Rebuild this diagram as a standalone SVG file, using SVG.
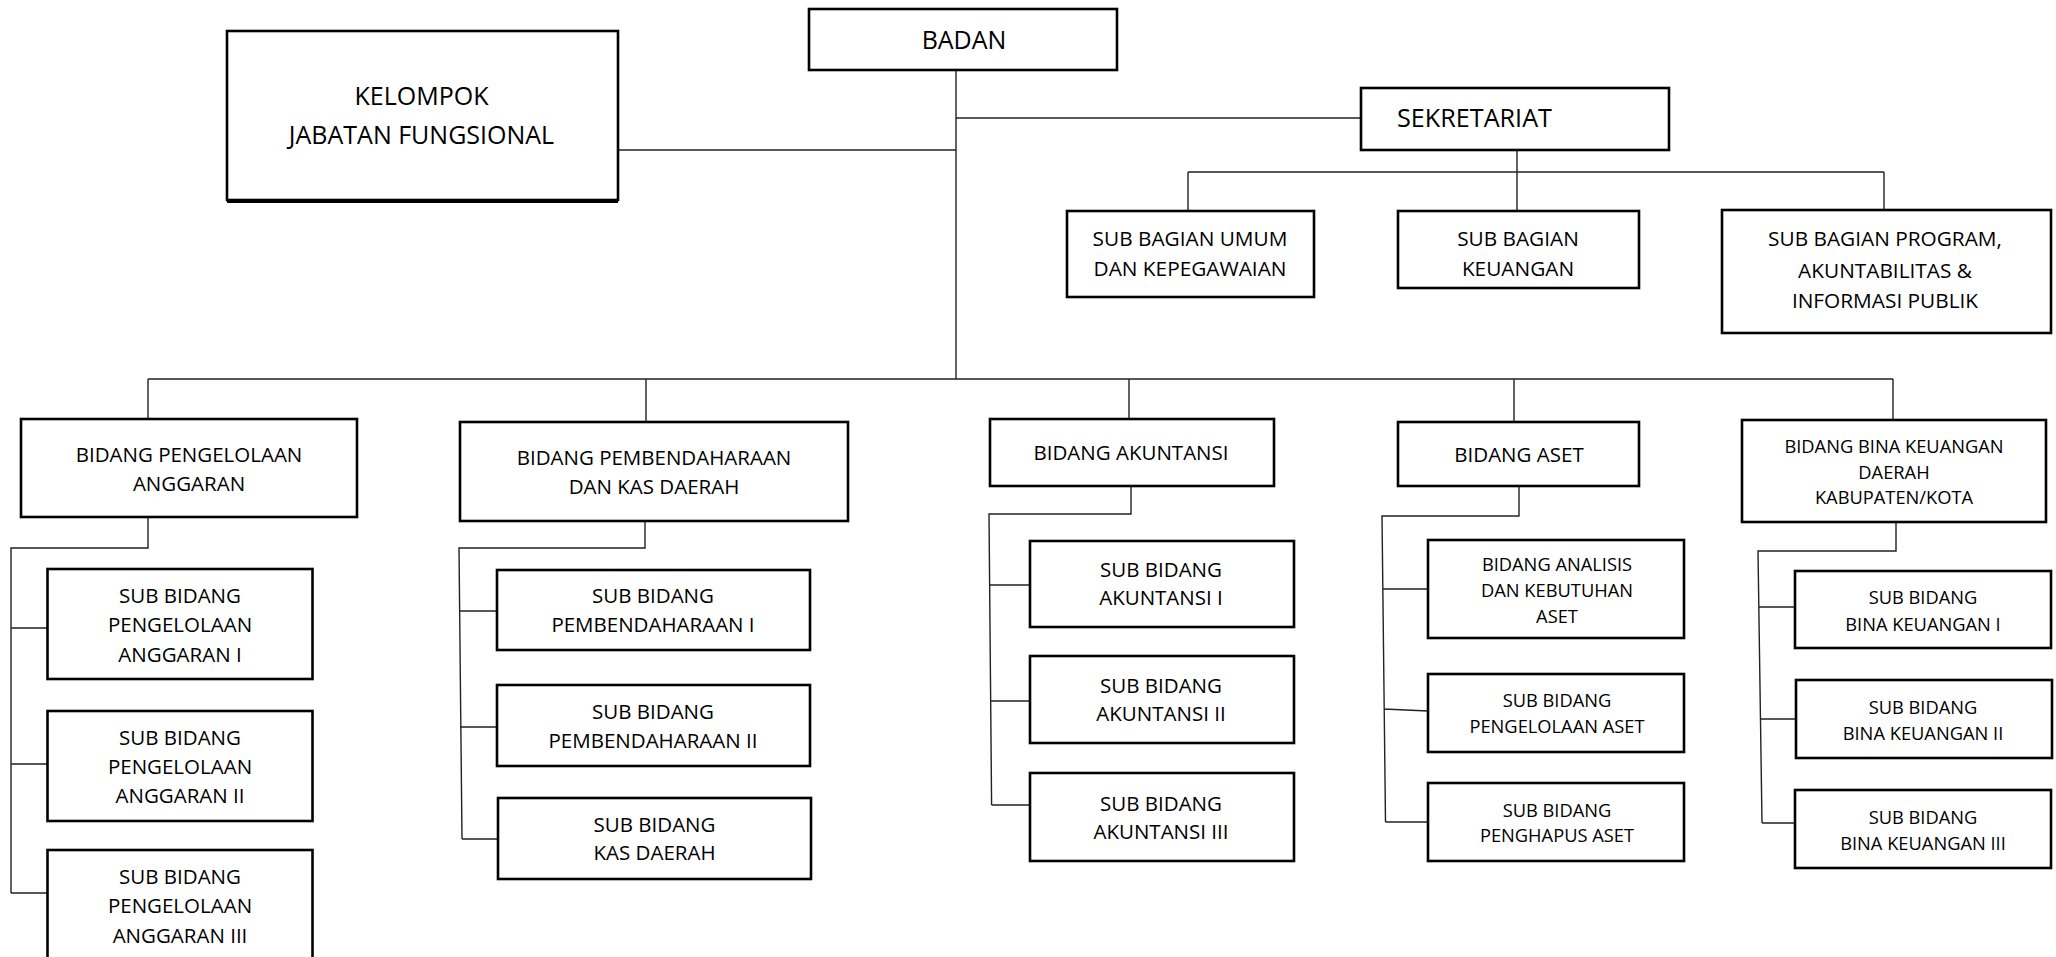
<svg xmlns="http://www.w3.org/2000/svg" width="2056" height="957" viewBox="0 0 2056 957">
<style>
.b{fill:#fff;stroke:#000;stroke-width:2.6}
.c{fill:none;stroke:#222;stroke-width:1.4}
text{font-family:"Open Sans","Liberation Sans",sans-serif;fill:#000;text-anchor:middle}
.t25{font-size:25px}
.t26{font-size:25.2px}
.t21{font-size:20.8px}
.t20{font-size:20.5px}
.t18{font-size:18.3px}
</style>
<rect width="2056" height="957" fill="#fff"/>
<g id="connectors">
<path class="c" d="M956 70V379M956 118H1361M618 150H956"/>
<path class="c" d="M1517 150V172M1188 172H1884M1188 172V211M1517 172V211M1884 172V210"/>
<path class="c" d="M148 379H1893M148 379V419M646 379V422M1129 379V419M1514 379V422M1893 379V420"/>
<path class="c" d="M148 517V548H11V893M11 628H47M11 764H47M11 893H47"/>
<path class="c" d="M645 521V548H459L462 839M460 611H497M460 727H497M462 839H498"/>
<path class="c" d="M1131 486V514H989L991.6 805M990 585H1030M990 701H1030M991.6 805H1030"/>
<path class="c" d="M1519 486V516H1382L1385.5 822M1383 589H1428M1384 709L1428 711M1385.5 822H1428"/>
<path class="c" d="M1896 522V551H1758L1762 823M1759 607H1795M1760 719H1796M1762 823H1795"/>
</g>
<g id="badan"><rect class="b" x="809" y="9" width="308" height="61"/><text class="t25" x="964" y="48.5">BADAN</text></g>
<g id="kelompok"><rect class="b" x="227" y="31" width="391" height="169"/><line x1="227" y1="202" x2="618" y2="202" stroke="#000" stroke-width="2"/><text class="t25" x="421.5" y="105">KELOMPOK</text><text class="t25" x="421.5" y="144">JABATAN FUNGSIONAL</text></g>
<g id="sekretariat"><rect class="b" x="1361" y="88" width="308" height="62"/><text class="t26" x="1397" y="126.7" style="text-anchor:start">SEKRETARIAT</text></g>
<g id="sub-umum"><rect class="b" x="1067" y="211" width="247" height="86"/><text class="t21" x="1190" y="245.5">SUB BAGIAN UMUM</text><text class="t21" x="1190" y="275.5">DAN KEPEGAWAIAN</text></g>
<g id="sub-keuangan"><rect class="b" x="1398" y="211" width="241" height="77"/><text class="t21" x="1518" y="245.5">SUB BAGIAN</text><text class="t21" x="1518" y="275.5">KEUANGAN</text></g>
<g id="sub-program"><rect class="b" x="1722" y="210" width="329" height="123"/><text class="t21" x="1885" y="245.5">SUB BAGIAN PROGRAM,</text><text class="t21" x="1885" y="277.5">AKUNTABILITAS &amp;</text><text class="t21" x="1885" y="307.5">INFORMASI PUBLIK</text></g>
<g id="bidang-anggaran"><rect class="b" x="21" y="419" width="336" height="98"/><text class="t20" x="189" y="462">BIDANG PENGELOLAAN</text><text class="t20" x="189" y="491">ANGGARAN</text></g>
<g id="sub-anggaran-1"><rect class="b" x="47.5" y="569" width="265" height="110"/><text class="t20" x="180" y="603">SUB BIDANG</text><text class="t20" x="180" y="632">PENGELOLAAN</text><text class="t20" x="180" y="662">ANGGARAN I</text></g>
<g id="sub-anggaran-2"><rect class="b" x="47.5" y="711" width="265" height="110"/><text class="t20" x="180" y="745">SUB BIDANG</text><text class="t20" x="180" y="774">PENGELOLAAN</text><text class="t20" x="180" y="803">ANGGARAN II</text></g>
<g id="sub-anggaran-3"><rect class="b" x="47.5" y="850" width="265" height="112"/><text class="t20" x="180" y="884">SUB BIDANG</text><text class="t20" x="180" y="913">PENGELOLAAN</text><text class="t20" x="180" y="943">ANGGARAN III</text></g>
<g id="bidang-pembendaharaan"><rect class="b" x="460" y="422" width="388" height="99"/><text class="t20" x="654" y="465">BIDANG PEMBENDAHARAAN</text><text class="t20" x="654" y="494">DAN KAS DAERAH</text></g>
<g id="sub-pembendaharaan-1"><rect class="b" x="497" y="570" width="313" height="80"/><text class="t20" x="653" y="603">SUB BIDANG</text><text class="t20" x="653" y="632">PEMBENDAHARAAN I</text></g>
<g id="sub-pembendaharaan-2"><rect class="b" x="497" y="685" width="313" height="81"/><text class="t20" x="653" y="719">SUB BIDANG</text><text class="t20" x="653" y="748">PEMBENDAHARAAN II</text></g>
<g id="sub-kas-daerah"><rect class="b" x="498" y="798" width="313" height="81"/><text class="t20" x="654.5" y="832">SUB BIDANG</text><text class="t20" x="654.5" y="860">KAS DAERAH</text></g>
<g id="bidang-akuntansi"><rect class="b" x="990" y="419" width="284" height="67"/><text class="t20" x="1131" y="460">BIDANG AKUNTANSI</text></g>
<g id="sub-akuntansi-1"><rect class="b" x="1030" y="541" width="264" height="86"/><text class="t20" x="1161" y="577">SUB BIDANG</text><text class="t20" x="1161" y="605">AKUNTANSI I</text></g>
<g id="sub-akuntansi-2"><rect class="b" x="1030" y="656" width="264" height="87"/><text class="t20" x="1161" y="693">SUB BIDANG</text><text class="t20" x="1161" y="721">AKUNTANSI II</text></g>
<g id="sub-akuntansi-3"><rect class="b" x="1030" y="773" width="264" height="88"/><text class="t20" x="1161" y="811">SUB BIDANG</text><text class="t20" x="1161" y="839">AKUNTANSI III</text></g>
<g id="bidang-aset"><rect class="b" x="1398" y="422" width="241" height="64"/><text class="t20" x="1519" y="462">BIDANG ASET</text></g>
<g id="sub-analisis"><rect class="b" x="1428" y="540" width="256" height="98"/><text class="t18" x="1557" y="570.5">BIDANG ANALISIS</text><text class="t18" x="1557" y="596.5">DAN KEBUTUHAN</text><text class="t18" x="1557" y="622.5">ASET</text></g>
<g id="sub-pengelolaan-aset"><rect class="b" x="1428" y="674" width="256" height="78"/><text class="t18" x="1557" y="706.5">SUB BIDANG</text><text class="t18" x="1557" y="732.5">PENGELOLAAN ASET</text></g>
<g id="sub-penghapus-aset"><rect class="b" x="1428" y="783" width="256" height="78"/><text class="t18" x="1557" y="816.5">SUB BIDANG</text><text class="t18" x="1557" y="841.5">PENGHAPUS ASET</text></g>
<g id="bidang-bina"><rect class="b" x="1742" y="420" width="304" height="102"/><text class="t18" x="1894" y="452.6">BIDANG BINA KEUANGAN</text><text class="t18" x="1894" y="478.6">DAERAH</text><text class="t18" x="1894" y="503.6">KABUPATEN/KOTA</text></g>
<g id="sub-bina-1"><rect class="b" x="1795" y="571" width="256" height="77"/><text class="t18" x="1923" y="603.6">SUB BIDANG</text><text class="t18" x="1923" y="630.6">BINA KEUANGAN I</text></g>
<g id="sub-bina-2"><rect class="b" x="1796" y="680" width="256" height="78"/><text class="t18" x="1923" y="713.6">SUB BIDANG</text><text class="t18" x="1923" y="739.6">BINA KEUANGAN II</text></g>
<g id="sub-bina-3"><rect class="b" x="1795" y="790" width="256" height="78"/><text class="t18" x="1923" y="823.6">SUB BIDANG</text><text class="t18" x="1923" y="849.6">BINA KEUANGAN III</text></g>
</svg>
